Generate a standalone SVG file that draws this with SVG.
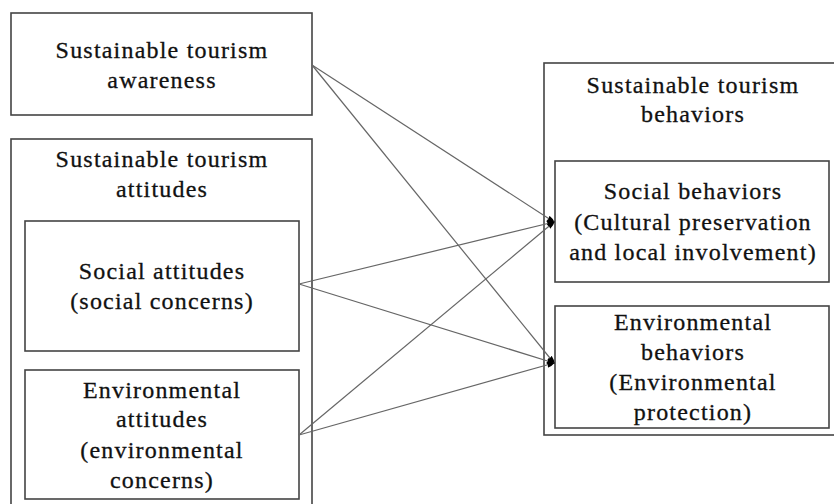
<svg xmlns="http://www.w3.org/2000/svg" width="834" height="504" viewBox="0 0 834 504">
<style>
.box{fill:#fff;stroke:#444;stroke-width:1.6}
.t{font-family:"Liberation Serif","Times New Roman",serif;font-size:24px;letter-spacing:1.2px;fill:#111;stroke:#111;stroke-width:0.3;text-anchor:middle}
.c{stroke:#666;stroke-width:1.2;fill:none;marker-end:url(#ah)}
</style>
<defs>
<marker id="ah" viewBox="0 0 10 10" refX="9" refY="5" markerWidth="8" markerHeight="10" markerUnits="userSpaceOnUse" orient="auto">
<path d="M0,1.5 Q6,2 10,5 Q6,8 0,8.5 Q2,5 0,1.5 Z" fill="#000"/>
</marker>
</defs>
<rect width="834" height="504" fill="#fff"/>
<g id="awareness">
<rect class="box" x="11" y="13" width="301" height="102"/>
<text class="t" x="162" y="58">Sustainable tourism</text>
<text class="t" x="162" y="88">awareness</text>
</g>
<g id="attitudes">
<rect class="box" x="11" y="139" width="301" height="370"/>
<text class="t" x="162" y="167">Sustainable tourism</text>
<text class="t" x="162" y="197">attitudes</text>
</g>
<g id="social-attitudes">
<rect class="box" x="25" y="221" width="274" height="130"/>
<text class="t" x="162" y="279">Social attitudes</text>
<text class="t" x="162" y="309">(social concerns)</text>
</g>
<g id="environmental-attitudes">
<rect class="box" x="25" y="370" width="274" height="129"/>
<text class="t" x="162" y="398">Environmental</text>
<text class="t" x="162" y="427">attitudes</text>
<text class="t" x="162" y="458">(environmental</text>
<text class="t" x="162" y="488">concerns)</text>
</g>
<g id="behaviors">
<rect class="box" x="544" y="63" width="300" height="372"/>
<text class="t" x="693" y="93">Sustainable tourism</text>
<text class="t" x="693" y="122">behaviors</text>
</g>
<g id="social-behaviors">
<rect class="box" x="555" y="161" width="274" height="121"/>
<text class="t" x="693" y="199">Social behaviors</text>
<text class="t" x="693" y="230">(Cultural preservation</text>
<text class="t" x="693" y="260">and local involvement)</text>
</g>
<g id="environmental-behaviors">
<rect class="box" x="555" y="306" width="274" height="122"/>
<text class="t" x="693" y="330">Environmental</text>
<text class="t" x="693" y="360">behaviors</text>
<text class="t" x="693" y="390">(Environmental</text>
<text class="t" x="693" y="420">protection)</text>
</g>
<g id="connectors">
<line class="c" x1="312" y1="65" x2="554" y2="222"/>
<line class="c" x1="312" y1="65" x2="554" y2="363"/>
<line class="c" x1="299" y1="284" x2="554" y2="222"/>
<line class="c" x1="299" y1="284" x2="554" y2="363"/>
<line class="c" x1="299" y1="435" x2="554" y2="222"/>
<line class="c" x1="299" y1="435" x2="554" y2="363"/>
</g>
</svg>
